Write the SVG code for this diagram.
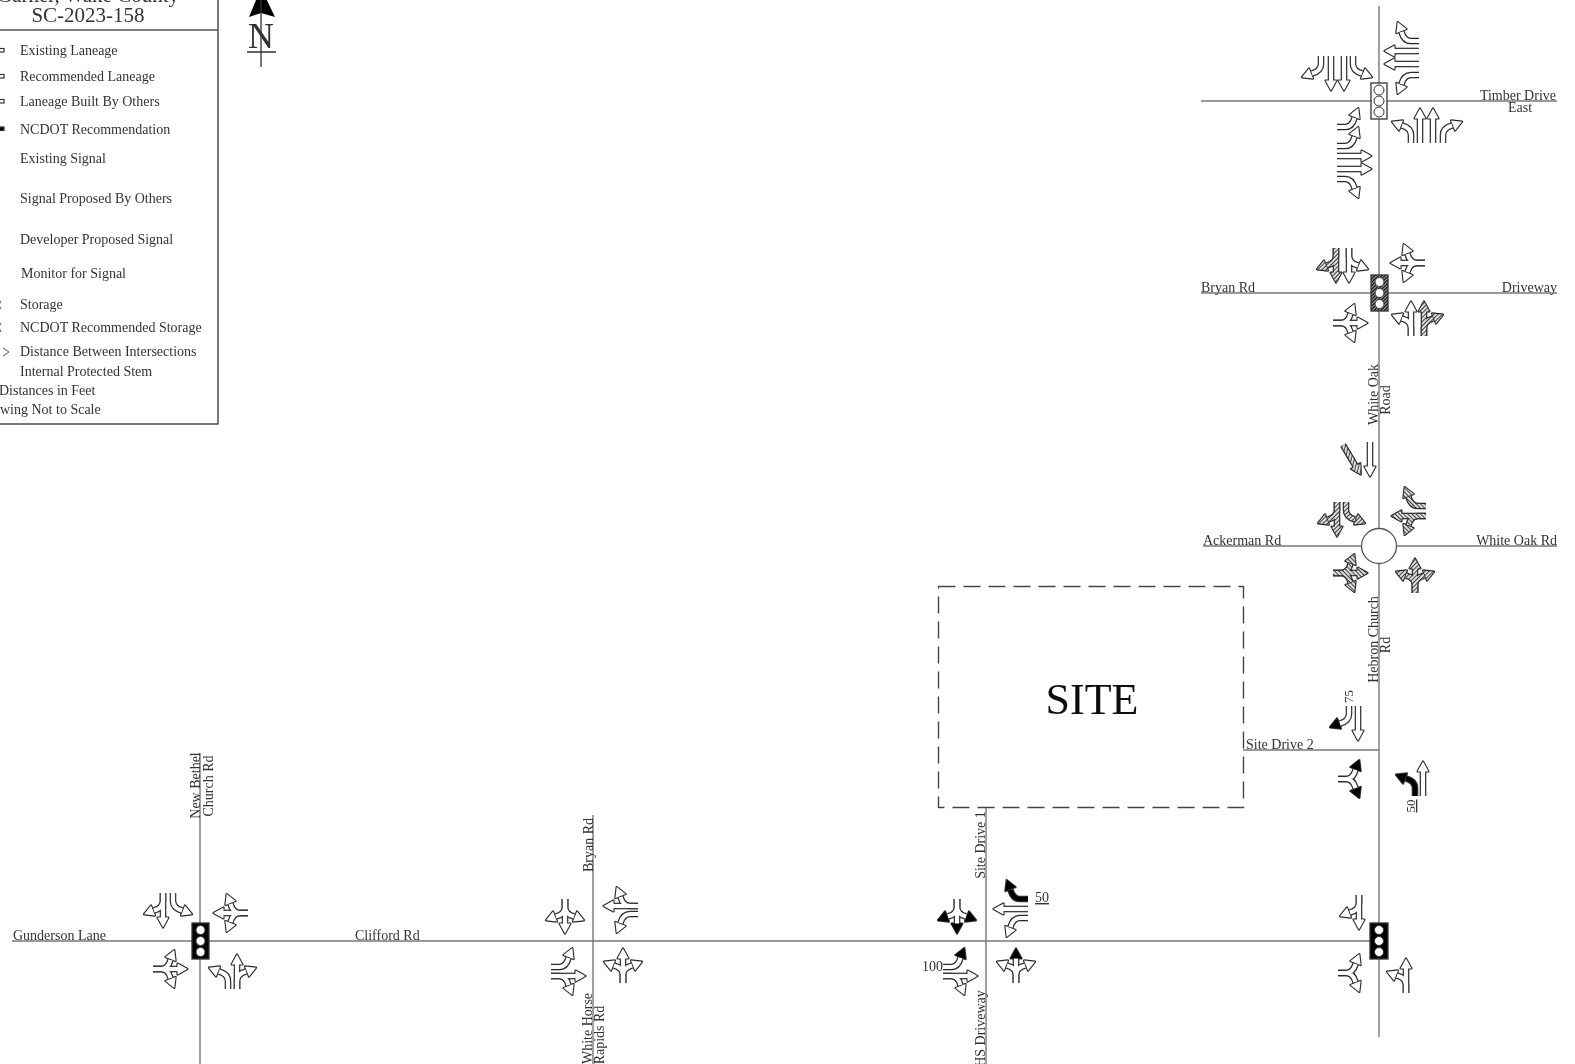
<svg xmlns="http://www.w3.org/2000/svg" width="1575" height="1064" viewBox="0 0 1575 1064">
<style>
svg{--f:#fff}
text{font-family:"Liberation Serif","Times New Roman",serif;font-size:14px;fill:#333}
.e{text-anchor:end}.c{text-anchor:middle}
.road{stroke:#777;stroke-width:1.4;fill:none}
.st{fill:none;stroke:var(--sc);stroke-width:var(--sw)}
.hd{fill:var(--hc);stroke:var(--hc);stroke-width:var(--hw);stroke-linejoin:round}
.o{--sc:#2a2a2a;--hc:#2a2a2a;--sw:6.6;--hw:2.2}
.i{--sw:4.2;--hw:0}
.mt{--sc:var(--ts,var(--f));--hc:var(--th,var(--f))}
.ml{--sc:var(--ls,var(--f));--hc:var(--lh,var(--f))}
.mr{--sc:var(--rs,var(--f));--hc:var(--rh,var(--f))}
.ha{--f:url(#hatch)}
.bh{--lh:#000;--th:#000;--rh:#000}
.bl{--lh:#000}.br{--rh:#000}.bt{--th:#000}
.sl{--ls:#000;--lh:#000}
.rs{--rs:#000;--rh:#000}
.sig{stroke:#333;stroke-width:1.3;fill:#fff}
.lamp{fill:#fff;stroke:#333;stroke-width:1}
</style>
<defs>
<pattern id="hatch" width="3" height="3" patternUnits="userSpaceOnUse" patternTransform="rotate(45)">
<rect width="3" height="3" fill="#eee"/><rect width="1.2" height="3" fill="#444"/>
</pattern>
<pattern id="sighatch" width="2.4" height="2.4" patternUnits="userSpaceOnUse" patternTransform="rotate(45)">
<rect width="2.4" height="2.4" fill="#aaa"/><rect width="1.5" height="2.4" fill="#222"/>
</pattern>
<filter id="soft" filterUnits="userSpaceOnUse" x="0" y="0" width="1575" height="1064"><feGaussianBlur stdDeviation="0.45"/></filter>
<g id="mT"><path class="st" d="M0 0V-25"/><path class="hd" d="M-5.500-24.500 0-34.500 5.500-24.500Z"/></g>
<g id="mL"><path class="st" d="M0 0V-8Q0-15-9-17.500"/><path class="hd" d="M-8-22.600-19-21.300-12-12.400Z"/></g>
<g id="mR"><path class="st" d="M0 0V-8Q0-15 9-17.500"/><path class="hd" d="M8-22.600 19-21.300 12-12.400Z"/></g>
<g id="T"><g class="o"><use href="#mT"/></g><g class="i"><use href="#mT" class="mt"/></g></g>
<g id="L"><g class="o"><use href="#mL"/></g><g class="i"><use href="#mL" class="ml"/></g></g>
<g id="R"><g class="o"><use href="#mR"/></g><g class="i"><use href="#mR" class="mr"/></g></g>
<g id="LT"><g class="o"><use href="#mL"/><use href="#mT"/></g><g class="i"><use href="#mL" class="ml"/><use href="#mT" class="mt"/></g></g>
<g id="TR"><g class="o"><use href="#mT"/><use href="#mR"/></g><g class="i"><use href="#mT" class="mt"/><use href="#mR" class="mr"/></g></g>
<g id="LR"><g class="o"><use href="#mL"/><use href="#mR"/></g><g class="i"><use href="#mL" class="ml"/><use href="#mR" class="mr"/></g></g>
<g id="LTR"><g class="o"><use href="#mL"/><use href="#mT"/><use href="#mR"/></g><g class="i"><use href="#mL" class="ml"/><use href="#mT" class="mt"/><use href="#mR" class="mr"/></g></g>
</defs>
<rect width="1575" height="1064" fill="#fff"/>
<g filter="url(#soft)">

<g id="legend">
<rect x="-6" y="-20" width="224" height="444" fill="#fff" stroke="#333" stroke-width="1.3"/>
<path d="M-6 30H218" stroke="#555" stroke-width="1.3"/>
<text x="88" y="2" class="c" style="font-size:21px">Garner, Wake County</text>
<text x="88" y="22" class="c" style="font-size:21px">SC-2023-158</text>
<g fill="#fff" stroke="#333" stroke-width="1.2">
<rect x="-2" y="48.500" width="6" height="3.500"/>
<rect x="-2" y="74.500" width="6" height="3.500"/>
<rect x="-2" y="99.500" width="6" height="3.500"/>
<rect x="-2" y="127" width="6" height="3.500" fill="#000"/>
</g>
<path d="M1 301-1 305 1 309M1 323-1 327 1 332M0 348-4 352 0 356M3 348 9 352 3 356" fill="none" stroke="#555" stroke-width="1"/>
<text x="20" y="55">Existing Laneage</text>
<text x="20" y="81">Recommended Laneage</text>
<text x="20" y="106">Laneage Built By Others</text>
<text x="20" y="134">NCDOT Recommendation</text>
<text x="20" y="163">Existing Signal</text>
<text x="20" y="203">Signal Proposed By Others</text>
<text x="20" y="244">Developer Proposed Signal</text>
<text x="21" y="278">Monitor for Signal</text>
<text x="20" y="309">Storage</text>
<text x="20" y="332">NCDOT Recommended Storage</text>
<text x="20" y="356">Distance Between Intersections</text>
<text x="20" y="376">Internal Protected Stem</text>
<text x="-1" y="395">Distances in Feet</text>
<text x="-21" y="414">Drawing Not to Scale</text>
</g>

<g id="north-arrow">
<path d="M261-12 275 17 261 13 249 17Z" fill="#000"/>
<path d="M261 0V67M247 52H276" stroke="#333" stroke-width="1.3" fill="none"/>
<text x="261" y="48" class="c" style="font-size:36px">N</text>
</g>

<g id="connectors">
<path class="road" d="M1379 6V1037"/>
<path class="road" d="M1201 101H1557"/>
<path class="road" d="M1201 293H1557"/>
<path class="road" d="M1203 546H1557"/>
<path class="road" d="M1243 750H1379"/>
<path class="road" d="M12 941H1379"/>
<path class="road" d="M200 753V1064"/>
<path class="road" d="M593 815V1064"/>
<path class="road" d="M986 808V1064"/>
</g>

<g id="site">
<rect x="938.500" y="586.500" width="305" height="221" fill="none" stroke="#444" stroke-width="1.4" stroke-dasharray="17 8"/>
<text x="1092" y="714" class="c" style="font-size:44px;fill:#111">SITE</text>
</g>

<g id="timber-drive">
<rect class="sig" x="1371" y="83" width="16" height="36"/>
<circle class="lamp" cx="1379" cy="90" r="5"/><circle class="lamp" cx="1379" cy="101" r="5"/><circle class="lamp" cx="1379" cy="112" r="5"/>
<use href="#R" transform="translate(1321 56) rotate(180)"/>
<use href="#T" transform="translate(1331 56) rotate(180)"/>
<use href="#T" transform="translate(1344 56) rotate(180)"/>
<use href="#L" transform="translate(1353 56) rotate(180)"/>
<use href="#R" transform="translate(1419 41) rotate(270)"/>
<use href="#T" transform="translate(1419 51) rotate(270)"/>
<use href="#T" transform="translate(1419 64) rotate(270)"/>
<use href="#L" transform="translate(1419 75) rotate(270)"/>
<use href="#L" transform="translate(1411 143)"/>
<use href="#T" transform="translate(1420 143)"/>
<use href="#T" transform="translate(1433 143)"/>
<use href="#R" transform="translate(1443 143)"/>
<use href="#L" transform="translate(1337 127) rotate(90)"/>
<use href="#L" transform="translate(1337 146) rotate(90)"/>
<use href="#T" transform="translate(1337 156) rotate(90)"/>
<use href="#T" transform="translate(1337 169) rotate(90)"/>
<use href="#R" transform="translate(1337 179) rotate(90)"/>
<text x="1556" y="100" class="e">Timber Drive</text>
<text x="1520" y="112" class="c">East</text>
</g>

<g id="bryan-rd">
<rect class="sig" x="1371" y="275" width="17" height="36" style="fill:url(#sighatch)"/>
<circle class="lamp" cx="1379.500" cy="282" r="4.500"/><circle class="lamp" cx="1379.500" cy="293" r="4.500"/><circle class="lamp" cx="1379.500" cy="304" r="4.500"/>
<use href="#TR" class="ha" transform="translate(1336 248) rotate(180)"/>
<use href="#LT" transform="translate(1349 248) rotate(180)"/>
<use href="#LTR" transform="translate(1425 263) rotate(270)"/>
<use href="#LTR" transform="translate(1333 323) rotate(90)"/>
<use href="#LT" transform="translate(1411 336)"/>
<use href="#TR" class="ha" transform="translate(1424 336)"/>
<text x="1201" y="292">Bryan Rd</text>
<text x="1557" y="292" class="e">Driveway</text>
<text transform="translate(1378 394.500) rotate(-90)" class="c">White Oak</text>
<text transform="translate(1390 400) rotate(-90)" class="c">Road</text>
</g>

<g id="ackerman-rd">
<circle cx="1379" cy="546" r="17.500" fill="#fff" stroke="#555" stroke-width="1.3"/>
<use href="#T" transform="translate(1370 442) rotate(180)"/>
<use href="#T" class="ha" transform="translate(1343 445) rotate(149)"/>
<use href="#TR" class="ha" transform="translate(1337 502) rotate(180)"/>
<use href="#L" class="ha" transform="translate(1346 502) rotate(180)"/>
<use href="#R" class="ha" transform="translate(1426 506) rotate(270)"/>
<use href="#LT" class="ha" transform="translate(1426 516) rotate(270)"/>
<use href="#LTR" class="ha" transform="translate(1333 573) rotate(90)"/>
<use href="#LTR" class="ha" transform="translate(1415 593)"/>
<text x="1203" y="545">Ackerman Rd</text>
<text x="1557" y="545" class="e">White Oak Rd</text>
<text transform="translate(1378 639.500) rotate(-90)" class="c">Hebron Church</text>
<text transform="translate(1390 645) rotate(-90)" class="c">Rd</text>
</g>

<g id="site-drive-2">
<use href="#R" class="br" transform="translate(1349 706) rotate(180)"/>
<use href="#T" transform="translate(1358 706) rotate(180)"/>
<use href="#LR" class="bh" transform="translate(1338 779) rotate(90)"/>
<use href="#L" class="sl" transform="translate(1415 796)"/>
<use href="#T" transform="translate(1423 796)"/>
<text x="1246" y="749">Site Drive 2</text>
<text transform="translate(1353 696.500) rotate(-90)" class="c" style="font-size:13px">75</text>
<text transform="translate(1415 806) rotate(-90)" class="c" style="font-size:13px;text-decoration:underline">50</text>
</g>

<g id="east-signal">
<rect class="sig" x="1370" y="923" width="18" height="36" style="fill:#000"/>
<circle class="lamp" cx="1379" cy="930" r="4.500"/><circle class="lamp" cx="1379" cy="941" r="4.500"/><circle class="lamp" cx="1379" cy="952" r="4.500"/>
<use href="#TR" transform="translate(1359 895) rotate(180)"/>
<use href="#LR" transform="translate(1338 973) rotate(90)"/>
<use href="#LT" transform="translate(1406 993)"/>
</g>

<g id="site-drive-1">
<use href="#LTR" class="bh" transform="translate(957 899) rotate(180)"/>
<use href="#R" class="rs" transform="translate(1028 899) rotate(270)"/>
<use href="#T" transform="translate(1028 909) rotate(270)"/>
<use href="#L" transform="translate(1028 918) rotate(270)"/>
<use href="#L" class="bl" transform="translate(943 967) rotate(90)"/>
<use href="#TR" transform="translate(943 976) rotate(90)"/>
<use href="#LTR" class="bt" transform="translate(1016 983)"/>
<text x="922" y="971">100</text>
<text x="1035" y="902" style="text-decoration:underline">50</text>
<text transform="translate(985 845) rotate(-90)" class="c">Site Drive 1</text>
<text transform="translate(985 1028.500) rotate(-90)" class="c">HS Driveway</text>
</g>

<g id="white-horse-rapids">
<use href="#LTR" transform="translate(565 899) rotate(180)"/>
<use href="#TR" transform="translate(638 906) rotate(270)"/>
<use href="#L" transform="translate(638 914) rotate(270)"/>
<use href="#LTR" transform="translate(623 983)"/>
<use href="#L" transform="translate(551 967) rotate(90)"/>
<use href="#TR" transform="translate(551 976) rotate(90)"/>
<text transform="translate(592.500 845) rotate(-90)" class="c">Bryan Rd</text>
<text transform="translate(592 1028.500) rotate(-90)" class="c">White Horse</text>
<text transform="translate(604 1035) rotate(-90)" class="c">Rapids Rd</text>
</g>

<g id="new-bethel">
<rect class="sig" x="192" y="923" width="17" height="36" style="fill:#000"/>
<circle class="lamp" cx="200.500" cy="930" r="4.500"/><circle class="lamp" cx="200.500" cy="941" r="4.500"/><circle class="lamp" cx="200.500" cy="952" r="4.500"/>
<use href="#TR" transform="translate(163 893) rotate(180)"/>
<use href="#L" transform="translate(173 893) rotate(180)"/>
<use href="#LTR" transform="translate(248 913) rotate(270)"/>
<use href="#LTR" transform="translate(153 969) rotate(90)"/>
<use href="#L" transform="translate(228 989)"/>
<use href="#TR" transform="translate(237 989)"/>
<text x="13" y="940">Gunderson Lane</text>
<text x="355" y="940">Clifford Rd</text>
<text transform="translate(200 785.500) rotate(-90)" class="c">New Bethel</text>
<text transform="translate(213 786) rotate(-90)" class="c">Church Rd</text>
</g>
</g>
</svg>
